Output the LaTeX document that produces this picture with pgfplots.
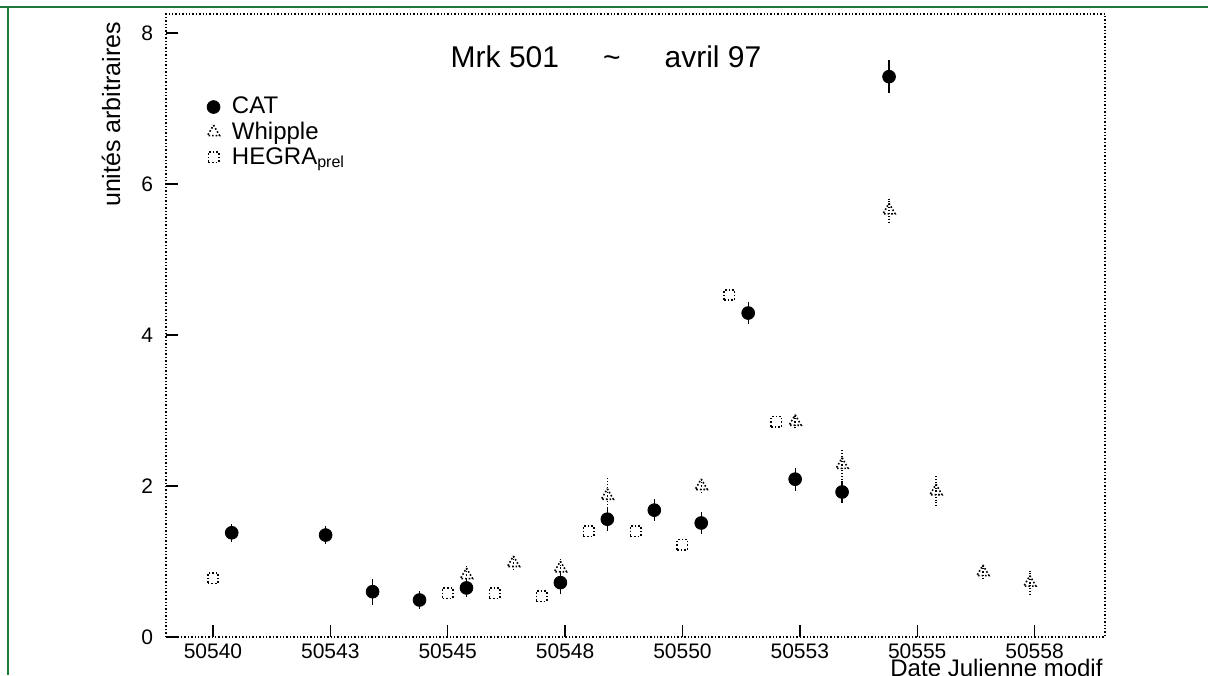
\documentclass[border=0pt]{standalone}
\usepackage{pgfplots}
\pgfplotsset{compat=1.18}
\usepackage{fontspec}
\setmainfont{Liberation Sans}
\definecolor{pagegreen}{RGB}{30,120,60}

\begin{document}
\begin{tikzpicture}
\useasboundingbox (0,0) rectangle (604pt,337.5pt);
\clip (0,0) rectangle (604pt,337.5pt);
\fill[white] (0,0) rectangle (604pt,337.5pt);
\draw[pagegreen, line width=0.8pt] (0,334pt) -- (604pt,334pt);
\draw[pagegreen, line width=0.8pt] (4pt,334pt) -- (4pt,0);
\begin{axis}[
  at={(83pt,19pt)}, anchor=south west,
  scale only axis, width=469.5pt, height=311.5pt,
  xmin=50539, xmax=50559, ymin=0, ymax=8.25,
  axis line style={densely dotted, line width=0.7pt},
  tick align=inside, tick pos=left,
  major tick length=6pt,
  tick style={solid, black, line width=0.7pt},
  xtick={50540,50542.5,50545,50547.5,50550,50552.5,50555,50557.5},
  xticklabels={50540,50543,50545,50548,50550,50553,50555,50558},
  ytick={0,2,4,6,8},
  ticklabel style={font=\fontsize{10.5}{12}\selectfont},
  /pgf/number format/assume math mode=true,
  yticklabel style={xshift=-3pt},
  legend style={at={(0.037,0.88)}, anchor=north west, draw=none, fill=none,
    font=\fontsize{12}{14}\selectfont, row sep=-1.5pt, column sep=4pt,
    cells={anchor=west}},
]
\addplot[only marks, mark=*, mark size=3.2pt, black,
  error bars/.cd, y dir=both, y explicit, error mark=none,
  error bar style={line width=0.6pt}]
coordinates {
(50540.4,1.38) +- (0,0.12)
(50542.4,1.35) +- (0,0.12)
(50543.4,0.60) +- (0,0.17)
(50544.4,0.49) +- (0,0.12)
(50545.4,0.65) +- (0,0.12)
(50547.4,0.72) +- (0,0.15)
(50548.4,1.56) +- (0,0.15)
(50549.4,1.68) +- (0,0.15)
(50550.4,1.51) +- (0,0.15)
(50551.4,4.29) +- (0,0.15)
(50552.4,2.09) +- (0,0.15)
(50553.4,1.92) +- (0,0.15)
(50554.4,7.42) +- (0,0.22)
};
\addlegendentry{CAT}
\addplot[only marks, mark=triangle, mark size=3.5pt, black,
  mark options={densely dotted, line width=0.8pt},
  error bars/.cd, y dir=both, y explicit, error mark=none,
  error bar style={densely dotted, line width=0.7pt}]
coordinates {
(50545.4,0.82) +- (0,0.12)
(50546.4,0.98) +- (0,0.10)
(50547.4,0.91) +- (0,0.12)
(50548.4,1.87) +- (0,0.24)
(50550.4,2.00) +- (0,0.10)
(50552.4,2.85) +- (0,0.08)
(50553.4,2.28) +- (0,0.20)
(50554.4,5.65) +- (0,0.15)
(50555.4,1.93) +- (0,0.20)
(50556.4,0.86) +- (0,0.10)
(50557.4,0.72) +- (0,0.15)
};
\addlegendentry{Whipple}
\addplot[only marks, mark=square, mark size=2.6pt, black,
  mark options={densely dotted, line width=0.8pt}]
coordinates {
(50540.0,0.78)
(50545.0,0.58)
(50546.0,0.58)
(50547.0,0.54)
(50548.0,1.40)
(50549.0,1.40)
(50550.0,1.22)
(50551.0,4.53)
(50552.0,2.85)
};
\addlegendentry{HEGRA\textsubscript{prel}}
\end{axis}
\node[font=\fontsize{15}{18}\selectfont] at (303pt,309pt) {Mrk 501\hspace{22pt}\textasciitilde\hspace{22pt}avril 97};
\node[rotate=90, anchor=east, font=\fontsize{12.5}{14}\selectfont] at (55.5pt,330pt) {unités arbitraires};
\node[anchor=north west, inner sep=0pt, font=\fontsize{12}{14}\selectfont] at (445pt,8pt) {Date Julienne modif};
\end{tikzpicture}
\end{document}
